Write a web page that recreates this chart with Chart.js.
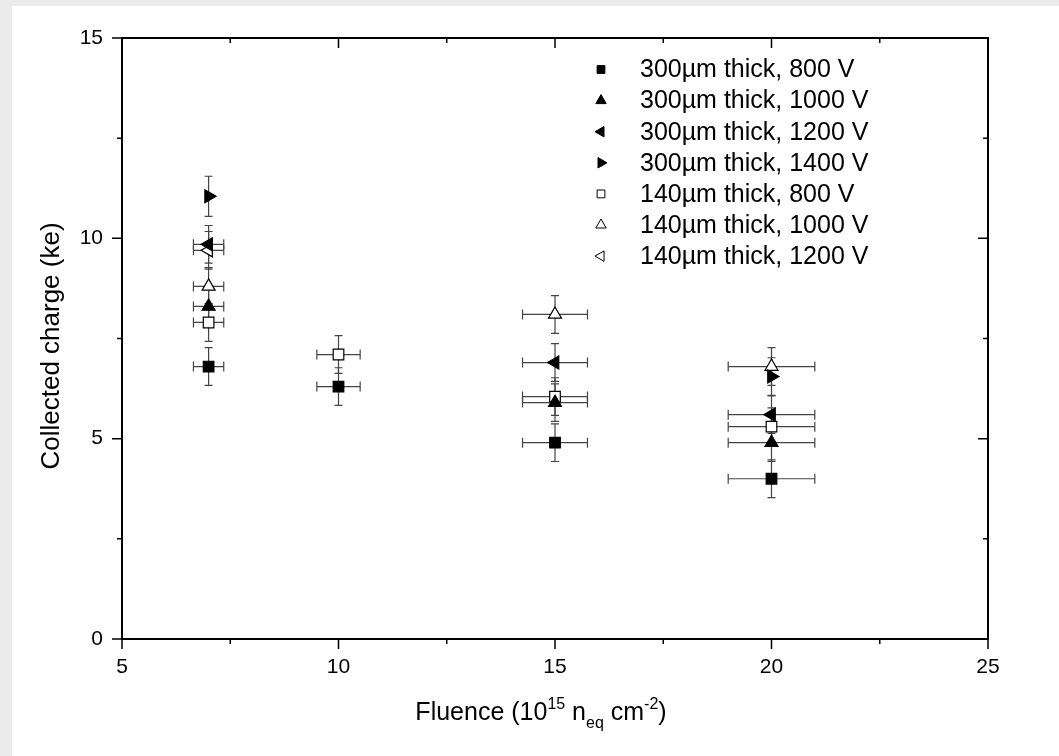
<!DOCTYPE html>
<html>
<head>
<meta charset="utf-8">
<script src="https://cdn.jsdelivr.net/npm/chart.js@4.4.0/dist/chart.umd.min.js"></script>
<style>
  html, body { margin: 0; padding: 0; background: #ebebeb; overflow: hidden; }
  #panel { position: absolute; left: 12px; top: 6px; width: 1047px; height: 750px; background: #fff; }
</style>
</head>
<body>
<div id="panel"><canvas id="grafica" width="1047" height="750"></canvas></div>
<script>
// tick labels
const xTicks = [5, 10, 15, 20, 25];
const yTicks = [0, 5, 10, 15];

// 300 um, 800 V
const fluence300_800 = [7, 10, 15, 20];
const charge300_800 = [6.8, 6.3, 4.9, 4.0];
const xErr300_800 = [0.35, 0.5, 0.75, 1.0];
const yErr300_800 = [0.47, 0.47, 0.47, 0.47];

// 300 um, 1000 V
const fluence300_1000 = [7, 15, 20];
const charge300_1000 = [8.3, 5.9, 4.9];
const xErr300_1000 = [0.35, 0.75, 1.0];
const yErr300_1000 = [0.47, 0.47, 0.47];

// 300 um, 1200 V
const fluence300_1200 = [7, 15, 20];
const charge300_1200 = [9.85, 6.9, 5.6];
const xErr300_1200 = [0.35, 0.75, 1.0];
const yErr300_1200 = [0.47, 0.47, 0.47];

// 300 um, 1400 V (sin barra horizontal)
const fluence300_1400 = [7, 20];
const charge300_1400 = [11.05, 6.55];
const xErr300_1400 = [0, 0];
const yErr300_1400 = [0.5, 0.47];

// 140 um, 800 V
const fluence140_800 = [7, 10, 15, 20];
const charge140_800 = [7.9, 7.1, 6.05, 5.3];
const xErr140_800 = [0.35, 0.5, 0.75, 1.0];
const yErr140_800 = [0.47, 0.47, 0.47, 0.47];

// 140 um, 1000 V
const fluence140_1000 = [7, 15, 20];
const charge140_1000 = [8.8, 8.1, 6.8];
const xErr140_1000 = [0.35, 0.75, 1.0];
const yErr140_1000 = [0.47, 0.47, 0.47];

// 140 um, 1200 V
const fluence140_1200 = [7];
const charge140_1200 = [9.7];
const xErr140_1200 = [0.35];
const yErr140_1200 = [0.47];

const FONT = '"Liberation Sans", Arial, sans-serif';
Chart.defaults.font.family = FONT;
Chart.defaults.color = '#000';

function serie(label, xs, ys, xErr, yErr, style, rot, filled, radius) {
  return {
    label: label,
    data: xs.map(function (x, i) { return { x: x, y: ys[i] }; }),
    xErr: xErr,
    yErr: yErr,
    pointStyle: style,
    pointRotation: rot,
    pointRadius: radius,
    pointBorderWidth: 1.2,
    backgroundColor: filled ? '#000' : '#fff',
    borderColor: '#000',
    showLine: false
  };
}

const datasets = [
  serie('300µm thick, 800 V', fluence300_800, charge300_800, xErr300_800, yErr300_800, 'rect', 0, true, 7.5),
  serie('300µm thick, 1000 V', fluence300_1000, charge300_1000, xErr300_1000, yErr300_1000, 'triangle', 0, true, 7.5),
  serie('300µm thick, 1200 V', fluence300_1200, charge300_1200, xErr300_1200, yErr300_1200, 'triangle', -90, true, 7.5),
  serie('300µm thick, 1400 V', fluence300_1400, charge300_1400, xErr300_1400, yErr300_1400, 'triangle', 90, true, 7.5),
  serie('140µm thick, 800 V', fluence140_800, charge140_800, xErr140_800, yErr140_800, 'rect', 0, false, 7.5),
  serie('140µm thick, 1000 V', fluence140_1000, charge140_1000, xErr140_1000, yErr140_1000, 'triangle', 0, false, 7.5),
  serie('140µm thick, 1200 V', fluence140_1200, charge140_1200, xErr140_1200, yErr140_1200, 'triangle', -90, false, 7.5)
];

// Barras de error
const errorBars = {
  id: 'errorBars',
  beforeDatasetsDraw: function (chart) {
    const ctx = chart.ctx, sx = chart.scales.x, sy = chart.scales.y;
    ctx.save();
    ctx.strokeStyle = '#444';
    ctx.lineWidth = 1.2;
    chart.data.datasets.forEach(function (ds) {
      ds.data.forEach(function (p, i) {
        const px = sx.getPixelForValue(p.x), py = sy.getPixelForValue(p.y);
        const top = sy.getPixelForValue(p.y + ds.yErr[i]);
        const bot = sy.getPixelForValue(p.y - ds.yErr[i]);
        ctx.beginPath();
        ctx.moveTo(px, top); ctx.lineTo(px, bot);
        ctx.moveTo(px - 4, top); ctx.lineTo(px + 4, top);
        ctx.moveTo(px - 4, bot); ctx.lineTo(px + 4, bot);
        if (ds.xErr[i] > 0) {
          const l = sx.getPixelForValue(p.x - ds.xErr[i]);
          const r = sx.getPixelForValue(p.x + ds.xErr[i]);
          ctx.moveTo(l, py); ctx.lineTo(r, py);
          ctx.moveTo(l, py - 5); ctx.lineTo(l, py + 5);
          ctx.moveTo(r, py - 5); ctx.lineTo(r, py + 5);
        }
        ctx.stroke();
      });
    });
    ctx.restore();
  }
};

// Marco, marcas, leyenda y titulos
const frame = {
  id: 'frame',
  afterDraw: function (chart) {
    const ctx = chart.ctx, a = chart.chartArea;
    const sx = chart.scales.x, sy = chart.scales.y;
    ctx.save();
    ctx.strokeStyle = '#000';
    ctx.lineWidth = 1.5;
    ctx.beginPath();
    function tickX(v, len) {
      const p = sx.getPixelForValue(v);
      ctx.moveTo(p, a.bottom); ctx.lineTo(p, a.bottom + len);
      ctx.moveTo(p, a.top); ctx.lineTo(p, a.top + len);
    }
    function tickY(v, len) {
      const p = sy.getPixelForValue(v);
      ctx.moveTo(a.left, p); ctx.lineTo(a.left - len, p);
      ctx.moveTo(a.right, p); ctx.lineTo(a.right - len, p);
    }
    xTicks.forEach(function (v, i) {
      tickX(v, 10);
      if (i < xTicks.length - 1) tickX((v + xTicks[i + 1]) / 2, 5);
    });
    yTicks.forEach(function (v, i) {
      tickY(v, 10);
      if (i < yTicks.length - 1) tickY((v + yTicks[i + 1]) / 2, 5);
    });
    ctx.stroke();
    ctx.lineWidth = 2;
    ctx.strokeRect(a.left, a.top, a.right - a.left, a.bottom - a.top);

    // Leyenda
    ctx.textBaseline = 'middle';
    ctx.textAlign = 'left';
    chart.data.datasets.forEach(function (ds, i) {
      const y = 63.5 + i * 31.1;
      ctx.fillStyle = ds.backgroundColor;
      ctx.strokeStyle = '#000';
      ctx.lineWidth = 1;
      Chart.helpers.drawPoint(ctx, {
        pointStyle: ds.pointStyle,
        rotation: ds.pointRotation,
        radius: ds.pointStyle === 'rect' ? 5.5 : 6,
        borderWidth: 1
      }, 589, y);
      ctx.fillStyle = '#000';
      ctx.font = '25px ' + FONT;
      ctx.fillText(ds.label, 628, y + 1);
    });

    // Titulo eje Y
    ctx.save();
    ctx.translate(38, 340);
    ctx.rotate(-Math.PI / 2);
    ctx.textAlign = 'center';
    ctx.textBaseline = 'alphabetic';
    ctx.font = '26px ' + FONT;
    ctx.fillText('Collected charge (ke)', 0, 9);
    ctx.restore();

    // Titulo eje X con super/subindices
    const parts = [
      { t: 'Fluence (10', s: 25, dy: 0 },
      { t: '15', s: 16, dy: -11 },
      { t: ' n', s: 25, dy: 0 },
      { t: 'eq', s: 16, dy: 8 },
      { t: ' cm', s: 25, dy: 0 },
      { t: '-2', s: 16, dy: -11 },
      { t: ')', s: 25, dy: 0 }
    ];
    ctx.textAlign = 'left';
    ctx.textBaseline = 'alphabetic';
    let total = 0;
    parts.forEach(function (p) { ctx.font = p.s + 'px ' + FONT; p.w = ctx.measureText(p.t).width; total += p.w; });
    let x = 529 - total / 2;
    parts.forEach(function (p) {
      ctx.font = p.s + 'px ' + FONT;
      ctx.fillText(p.t, x, 714 + p.dy);
      x += p.w;
    });
    ctx.restore();
  }
};

new Chart(document.getElementById('grafica').getContext('2d'), {
  type: 'scatter',
  data: { datasets: datasets },
  options: {
    responsive: false,
    animation: false,
    devicePixelRatio: 1,
    layout: { padding: { top: 32, right: 71, left: 0, bottom: 0 } },
    plugins: {
      legend: { display: false },
      tooltip: { enabled: false }
    },
    scales: {
      x: {
        type: 'linear',
        min: 5,
        max: 25,
        grid: { display: false, drawTicks: false },
        border: { display: false },
        afterBuildTicks: function (s) { s.ticks = xTicks.map(function (v) { return { value: v }; }); },
        afterFit: function (s) { s.height = 117; },
        ticks: { font: { size: 21 }, padding: 16, color: '#000', maxRotation: 0 }
      },
      y: {
        type: 'linear',
        min: 0,
        max: 15,
        grid: { display: false, drawTicks: false },
        border: { display: false },
        afterBuildTicks: function (s) { s.ticks = yTicks.map(function (v) { return { value: v }; }); },
        afterFit: function (s) { s.width = 110; },
        ticks: { font: { size: 21 }, padding: 19, color: '#000' }
      }
    }
  },
  plugins: [errorBars, frame]
});
</script>
</body>
</html>
